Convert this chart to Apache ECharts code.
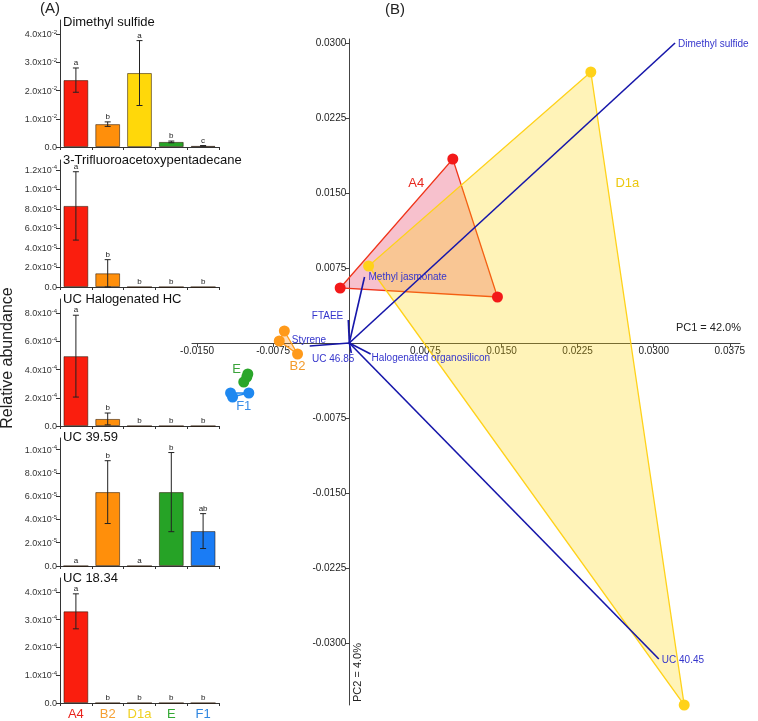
<!DOCTYPE html>
<html><head><meta charset="utf-8">
<script src="https://cdn.jsdelivr.net/npm/echarts@6/dist/echarts.min.js"></script>
<style>html,body{margin:0;padding:0;background:#fff}#c{width:758px;height:721px}</style>
</head><body><div id="c"></div>
<script>
// ---------- Panel A data ----------
const categories = ['A4', 'B2', 'D1a', 'E', 'F1'];
const panelNames = ['Dimethyl sulfide', '3-Trifluoroacetoxypentadecane', 'UC Halogenated HC', 'UC 39.59', 'UC 18.34'];

const dmsMean = [0.0237, 0.0081, 0.0262, 0.0018, 0.0004];
const dmsErr = [0.0043, 0.0008, 0.0115, 0.0003, 0.0001];
const dmsLetters = ['a', 'b', 'a', 'b', 'c'];
const dmsTicks = [0, 0.01, 0.02, 0.03, 0.04];
const dmsMax = 0.045;

const tfaMean = [8.3e-5, 1.4e-5, 0, 0, 0];
const tfaErr = [3.5e-5, 1.4e-5, 0, 0, 0];
const tfaLetters = ['a', 'b', 'b', 'b', 'b'];
const tfaTicks = [0, 2e-5, 4e-5, 6e-5, 8e-5, 1e-4, 1.2e-4];
const tfaMax = 1.3e-4;

const uchMean = [4.95e-4, 0.5e-4, 0, 0, 0];
const uchErr = [2.9e-4, 0.42e-4, 0, 0, 0];
const uchLetters = ['a', 'b', 'b', 'b', 'b'];
const uchTicks = [0, 2e-4, 4e-4, 6e-4, 8e-4];
const uchMax = 9e-4;

const uc39Mean = [0, 6.35e-5, 0, 6.35e-5, 3.0e-5];
const uc39Err = [0, 2.7e-5, 0, 3.4e-5, 1.5e-5];
const uc39Letters = ['a', 'b', 'a', 'b', 'ab'];
const uc39Ticks = [0, 2e-5, 4e-5, 6e-5, 8e-5, 1e-4];
const uc39Max = 1.1e-4;

const uc18Mean = [3.3e-4, 0, 0, 0, 0];
const uc18Err = [0.63e-4, 0, 0, 0, 0];
const uc18Letters = ['a', 'b', 'b', 'b', 'b'];
const uc18Ticks = [0, 1e-4, 2e-4, 3e-4, 4e-4];
const uc18Max = 4.5e-4;

// ---------- Panel B data ----------
const groupNames = ['A4', 'D1a', 'B2', 'E', 'F1'];
const a4PC1 = [-0.0009, 0.0102, 0.0146];
const a4PC2 = [0.0055, 0.0184, 0.0046];
const d1aPC1 = [0.0238, 0.0019, 0.0330];
const d1aPC2 = [0.0271, 0.0077, -0.0362];
const b2PC1 = [-0.0064, -0.0069, -0.0051];
const b2PC2 = [0.0012, 0.0002, -0.0011];
const ePC1 = [-0.0101, -0.0104, -0.0100];
const ePC2 = [-0.0034, -0.0039, -0.0031];
const f1PC1 = [-0.0117, -0.0115, -0.0099];
const f1PC2 = [-0.0050, -0.0054, -0.0050];

const vectorNames = ['Dimethyl sulfide', 'Methyl jasmonate', 'FTAEE', 'Styrene', 'UC 46.85', 'Halogenated organosilicon', 'UC 40.45'];
const vectorPC1 = [0.0321, 0.0015, -0.0001, -0.0039, 0.0002, 0.0021, 0.0305];
const vectorPC2 = [0.0300, 0.0066, 0.0023, -0.0003, -0.0010, -0.0011, -0.0316];

const pcaXTicks = [-0.015, -0.0075, 0.0075, 0.015, 0.0225, 0.03, 0.0375];
const pcaYTicks = [-0.03, -0.0225, -0.015, -0.0075, 0.0075, 0.015, 0.0225, 0.03];
const pc1Label = 'PC1 = 42.0%';
const pc2Label = 'PC2 = 4.0%';

// ---------- styles / layout ----------
const FONT = '"Liberation Sans", Arial, Helvetica, sans-serif';
const barColors = ['#fa1e0e', '#ff8f0b', '#ffd80a', '#26a326', '#1a7cf5'];
const catLabelColors = ['#e8231c', '#f5a033', '#f0d020', '#33a833', '#2f86e0'];
const panelLayout = [
  {top: 20, height: 127}, {top: 160, height: 127}, {top: 299, height: 127},
  {top: 438, height: 128}, {top: 578, height: 128}
];
const pcaGrid = {left: 192, right: 18, top: 39, bottom: 16};
const pcaXMin = -0.0155, pcaXMax = 0.0385, pcaYMin = -0.0362, pcaYMax = 0.0304;
const groupStyle = {
  A4: {fill: 'rgba(225,25,70,0.27)', stroke: '#f0341a', point: '#f31919', label: '#e8281e'},
  D1a: {fill: 'rgba(255,212,0,0.28)', stroke: '#ffd21a', point: '#ffd21a', label: '#ecc810'},
  B2: {fill: 'rgba(255,150,30,0.3)', stroke: '#ff9a1a', point: '#ff9a1a', label: '#f39a2a'},
  E: {fill: 'rgba(40,160,40,0.3)', stroke: '#2aa62a', point: '#2aa62a', label: '#3aa33a'},
  F1: {fill: 'rgba(30,130,240,0.3)', stroke: '#1e88f0', point: '#1e88f0', label: '#3a8ee8'}
};
const groupLabelAnchor = {A4: [0.0066, 0.0160], D1a: [0.0274, 0.0160], B2: [-0.0051, -0.0023], E: [-0.0111, -0.0026], F1: [-0.0104, -0.0063]};
const vectorLabelPlace = {
  'Dimethyl sulfide': ['left', 3, 1],
  'Methyl jasmonate': ['left', 4, 0],
  'FTAEE': ['right', -5, -4],
  'Styrene': ['left', -18, -6],
  'UC 46.85': ['right', 3, 6],
  'Halogenated organosilicon': ['left', 1, 4],
  'UC 40.45': ['left', 3, 1]
};

const panels = [
  {mean: dmsMean, err: dmsErr, letters: dmsLetters, ticks: dmsTicks, max: dmsMax},
  {mean: tfaMean, err: tfaErr, letters: tfaLetters, ticks: tfaTicks, max: tfaMax},
  {mean: uchMean, err: uchErr, letters: uchLetters, ticks: uchTicks, max: uchMax},
  {mean: uc39Mean, err: uc39Err, letters: uc39Letters, ticks: uc39Ticks, max: uc39Max},
  {mean: uc18Mean, err: uc18Err, letters: uc18Letters, ticks: uc18Ticks, max: uc18Max}
];

function sciLabel(v) {
  if (Math.abs(v) < 1e-15) return '{m|0.0}';
  const e = Math.floor(Math.log10(v) + 1e-9);
  const m = v / Math.pow(10, e);
  return '{m|' + m.toFixed(1) + 'x10}{e|' + e + '}';
}

const grid = [], xAxis = [], yAxis = [], series = [];
const catRich = {};
categories.forEach((c, i) => { catRich[c] = {color: catLabelColors[i], fontSize: 13, fontFamily: FONT}; });

panels.forEach((p, k) => {
  grid.push({left: 60, width: 159, top: panelLayout[k].top, height: panelLayout[k].height});
  xAxis.push({
    type: 'category', gridIndex: k, data: categories,
    axisLine: {lineStyle: {color: '#333', width: 1}},
    axisTick: {show: true, length: 3, lineStyle: {color: '#333'}},
    axisLabel: k === 4 ? {show: true, interval: 0, margin: 5, formatter: v => '{' + v + '|' + v + '}', rich: catRich} : {show: false},
    splitLine: {show: false}
  });
  yAxis.push({
    type: 'value', gridIndex: k, min: 0, max: p.max,
    axisLine: {show: true, lineStyle: {color: '#333', width: 1}},
    axisTick: {show: true, length: 4, customValues: p.ticks, lineStyle: {color: '#333'}},
    axisLabel: {
      customValues: p.ticks, margin: 3, formatter: sciLabel,
      rich: {
        m: {fontSize: 9, fontFamily: FONT, color: '#333', lineHeight: 10, verticalAlign: 'bottom'},
        e: {fontSize: 6, fontFamily: FONT, color: '#333', lineHeight: 6, verticalAlign: 'top'}
      }
    },
    splitLine: {show: false}
  });
  series.push({
    type: 'bar', xAxisIndex: k, yAxisIndex: k, barWidth: '78%', silent: true,
    itemStyle: {borderColor: 'rgba(40,20,0,0.55)', borderWidth: 1},
    data: p.mean.map((v, i) => ({value: v, itemStyle: {color: barColors[i]}}))
  });
  series.push({
    type: 'custom', xAxisIndex: k, yAxisIndex: k, silent: true, z: 5,
    data: p.mean.map((v, i) => [i, v + p.err[i]]),
    renderItem: (params, api) => {
      const i = params.dataIndex;
      const m = p.mean[i], e = p.err[i];
      const hi = api.coord([i, m + e]);
      const lo = api.coord([i, Math.max(m - e, 0)]);
      const ch = [];
      if (e > 0) {
        const st = {stroke: '#222', lineWidth: 1};
        ch.push({type: 'line', shape: {x1: hi[0], y1: hi[1], x2: lo[0], y2: lo[1]}, style: st});
        ch.push({type: 'line', shape: {x1: hi[0] - 3, y1: hi[1], x2: hi[0] + 3, y2: hi[1]}, style: st});
        ch.push({type: 'line', shape: {x1: lo[0] - 3, y1: lo[1], x2: lo[0] + 3, y2: lo[1]}, style: st});
      }
      ch.push({type: 'text', x: hi[0], y: hi[1] - 1, style: {text: p.letters[i], align: 'center', verticalAlign: 'bottom', fontSize: 8, fontFamily: FONT, fill: '#222'}});
      return {type: 'group', children: ch};
    }
  });
});

// ---------- PCA grid (axes crossing at the origin) ----------
grid.push(pcaGrid);
const pcaW = 758 - pcaGrid.left - pcaGrid.right;
const pcaH = 721 - pcaGrid.top - pcaGrid.bottom;
const yAxisOffset = -pcaW * (0 - pcaXMin) / (pcaXMax - pcaXMin);
const xAxisOffset = -pcaH * (0 - pcaYMin) / (pcaYMax - pcaYMin);
xAxis.push({
  type: 'value', gridIndex: 5, min: pcaXMin, max: pcaXMax, position: 'bottom', offset: xAxisOffset,
  axisLine: {onZero: false, lineStyle: {color: '#444', width: 1}},
  axisTick: {show: true, length: 4, customValues: pcaXTicks, lineStyle: {color: '#444'}},
  axisLabel: {customValues: pcaXTicks, formatter: v => v.toFixed(4), fontSize: 10, fontFamily: FONT, color: '#222', margin: 3},
  splitLine: {show: false}
});
yAxis.push({
  type: 'value', gridIndex: 5, min: pcaYMin, max: pcaYMax, position: 'left', offset: yAxisOffset,
  axisLine: {onZero: false, lineStyle: {color: '#444', width: 1}},
  axisTick: {show: true, length: 4, customValues: pcaYTicks, lineStyle: {color: '#444'}},
  axisLabel: {customValues: pcaYTicks, formatter: v => v.toFixed(4), fontSize: 10, fontFamily: FONT, color: '#222', margin: 3},
  splitLine: {show: false}
});

const groupPC1 = {A4: a4PC1, D1a: d1aPC1, B2: b2PC1, E: ePC1, F1: f1PC1};
const groupPC2 = {A4: a4PC2, D1a: d1aPC2, B2: b2PC2, E: ePC2, F1: f1PC2};

series.push({
  type: 'custom', xAxisIndex: 5, yAxisIndex: 5, silent: true, z: 2, clip: false,
  data: groupNames.map(g => [groupPC1[g][0], groupPC2[g][0]]),
  renderItem: (params, api) => {
    const g = groupNames[params.dataIndex];
    const s = groupStyle[g];
    const pts = groupPC1[g].map((x, j) => api.coord([x, groupPC2[g][j]]));
    const la = api.coord(groupLabelAnchor[g]);
    return {type: 'group', children: [
      {type: 'polygon', shape: {points: pts}, style: {fill: s.fill, stroke: s.stroke, lineWidth: 1.3}},
      {type: 'text', x: la[0], y: la[1], z2: 10, style: {text: g, align: 'center', verticalAlign: 'middle', fontSize: 13, fontFamily: FONT, fill: s.label}}
    ]};
  }
});

series.push({
  type: 'custom', xAxisIndex: 5, yAxisIndex: 5, silent: true, z: 3, clip: false,
  data: vectorPC1.map((x, i) => [x, vectorPC2[i]]),
  renderItem: (params, api) => {
    const i = params.dataIndex;
    const o = api.coord([0, 0]);
    const e = api.coord([vectorPC1[i], vectorPC2[i]]);
    const pl = vectorLabelPlace[vectorNames[i]];
    return {type: 'group', children: [
      {type: 'line', shape: {x1: o[0], y1: o[1], x2: e[0], y2: e[1]}, style: {stroke: '#1616aa', lineWidth: 1.6}},
      {type: 'text', x: e[0] + pl[1], y: e[1] + pl[2], style: {text: vectorNames[i], align: pl[0], verticalAlign: 'middle', fontSize: 10, fontFamily: FONT, fill: '#3535cc'}}
    ]};
  }
});

groupNames.forEach(g => {
  series.push({
    type: 'scatter', xAxisIndex: 5, yAxisIndex: 5, silent: true, z: 4, clip: false,
    symbolSize: 11, itemStyle: {color: groupStyle[g].point, opacity: 1},
    data: groupPC1[g].map((x, j) => [x, groupPC2[g][j]])
  });
});

const graphic = [
  {type: 'text', x: 50, y: 9, style: {text: '(A)', align: 'center', verticalAlign: 'middle', fontSize: 15, fontFamily: FONT, fill: '#222'}},
  {type: 'text', x: 395, y: 10, style: {text: '(B)', align: 'center', verticalAlign: 'middle', fontSize: 15, fontFamily: FONT, fill: '#222'}},
  {type: 'text', x: 8, y: 358, rotation: Math.PI / 2, style: {text: 'Relative abundance', align: 'center', verticalAlign: 'middle', fontSize: 16, fontFamily: FONT, fill: '#222'}},
  {type: 'text', x: 741, y: 328, style: {text: pc1Label, align: 'right', verticalAlign: 'middle', fontSize: 11, fontFamily: FONT, fill: '#222'}},
  {type: 'text', x: 358, y: 702, rotation: Math.PI / 2, style: {text: pc2Label, align: 'left', verticalAlign: 'middle', fontSize: 11, fontFamily: FONT, fill: '#222'}}
];
const titleY = [22, 160, 299, 437, 578];
panelNames.forEach((n, k) => {
  graphic.push({type: 'text', x: 63, y: titleY[k], style: {text: n, align: 'left', verticalAlign: 'middle', fontSize: 13, fontFamily: FONT, fill: '#111'}});
});

const chart = echarts.init(document.getElementById('c'), null, {renderer: 'canvas'});
chart.setOption({
  animation: false,
  backgroundColor: '#fff',
  textStyle: {fontFamily: FONT},
  grid, xAxis, yAxis, series, graphic
});
</script></body></html>
